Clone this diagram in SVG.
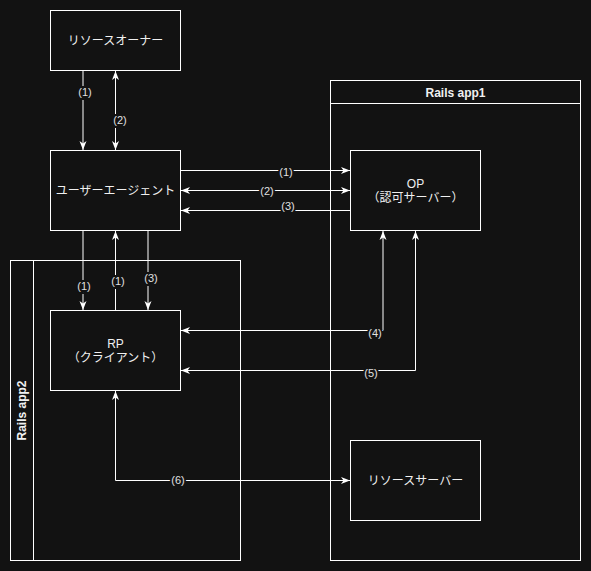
<svg xmlns="http://www.w3.org/2000/svg" width="591" height="571" viewBox="0 0 591 571">
<style>
.box{fill:#121212;stroke:#ffffff;stroke-width:1}
.t{font-family:"Liberation Sans","Noto Sans CJK JP",sans-serif;font-size:12px;fill:#f0f0f0;text-anchor:middle}
.b{font-weight:bold}
.e{fill:none;stroke:#ffffff;stroke-width:1}
.l{font-family:"Liberation Sans",sans-serif;font-size:11px;fill:#e0e0e0;text-anchor:middle;stroke:#121212;stroke-width:4;paint-order:stroke}
</style>
<defs>
<marker id="a" markerUnits="userSpaceOnUse" markerWidth="10" markerHeight="8" refX="9" refY="4" orient="auto-start-reverse">
<path d="M0,0.5 L9,4 L0,7.5 L2.5,4 z" fill="#ffffff"/>
</marker>
</defs>
<rect width="591" height="571" fill="#121212"/>
<g id="rails-app1">
<rect class="box" x="330.5" y="80.5" width="250" height="480"/>
<line x1="330.5" y1="103.5" x2="580.5" y2="103.5" stroke="#ffffff"/>
<text class="t b" x="455.5" y="97">Rails app1</text>
</g>
<g id="rails-app2">
<rect class="box" x="10.5" y="260.5" width="230" height="300"/>
<line x1="33.5" y1="260.5" x2="33.5" y2="560.5" stroke="#ffffff"/>
<text class="t b" transform="translate(26,410.5) rotate(-90)">Rails app2</text>
</g>
<g id="resource-owner">
<rect class="box" x="50.5" y="10.5" width="130" height="60"/>
<text class="t" x="115.5" y="45">リソースオーナー</text>
</g>
<g id="user-agent">
<rect class="box" x="50.5" y="150.5" width="130" height="80"/>
<text class="t" x="115.5" y="195">ユーザーエージェント</text>
</g>
<g id="op">
<rect class="box" x="350.5" y="150.5" width="130" height="80"/>
<text class="t" x="415.5" y="188">OP</text>
<text class="t" x="415.5" y="202">（認可サーバー）</text>
</g>
<g id="rp">
<rect class="box" x="50.5" y="310.5" width="130" height="80"/>
<text class="t" x="115.5" y="348">RP</text>
<text class="t" x="115.5" y="362">（クライアント）</text>
</g>
<g id="resource-server">
<rect class="box" x="350.5" y="440.5" width="130" height="80"/>
<text class="t" x="415.5" y="485">リソースサーバー</text>
</g>
<g id="connectors">
<path class="e" d="M83,70.5 V150" marker-end="url(#a)"/>
<text class="l" x="85" y="96">(1)</text>
<path class="e" d="M115.5,71 V150" marker-start="url(#a)" marker-end="url(#a)"/>
<text class="l" x="120" y="124">(2)</text>
<path class="e" d="M180.5,170.5 H350" marker-end="url(#a)"/>
<text class="l" x="286" y="176">(1)</text>
<path class="e" d="M181,190.5 H350" marker-start="url(#a)" marker-end="url(#a)"/>
<text class="l" x="267" y="195">(2)</text>
<path class="e" d="M350.5,210.5 H181" marker-end="url(#a)"/>
<text class="l" x="288" y="210">(3)</text>
<path class="e" d="M83,230.5 V310" marker-end="url(#a)"/>
<text class="l" x="84" y="290">(1)</text>
<path class="e" d="M115.5,310.5 V231" marker-end="url(#a)"/>
<text class="l" x="118" y="285">(1)</text>
<path class="e" d="M148,230.5 V310" marker-end="url(#a)"/>
<text class="l" x="151" y="282">(3)</text>
<path class="e" d="M181,330.5 H383 V231" marker-start="url(#a)" marker-end="url(#a)"/>
<text class="l" x="375" y="337">(4)</text>
<path class="e" d="M181,370.5 H415.5 V231" marker-start="url(#a)" marker-end="url(#a)"/>
<text class="l" x="371" y="377">(5)</text>
<path class="e" d="M115.5,391 V480.5 H350" marker-start="url(#a)" marker-end="url(#a)"/>
<text class="l" x="178" y="484">(6)</text>
</g>
</svg>
